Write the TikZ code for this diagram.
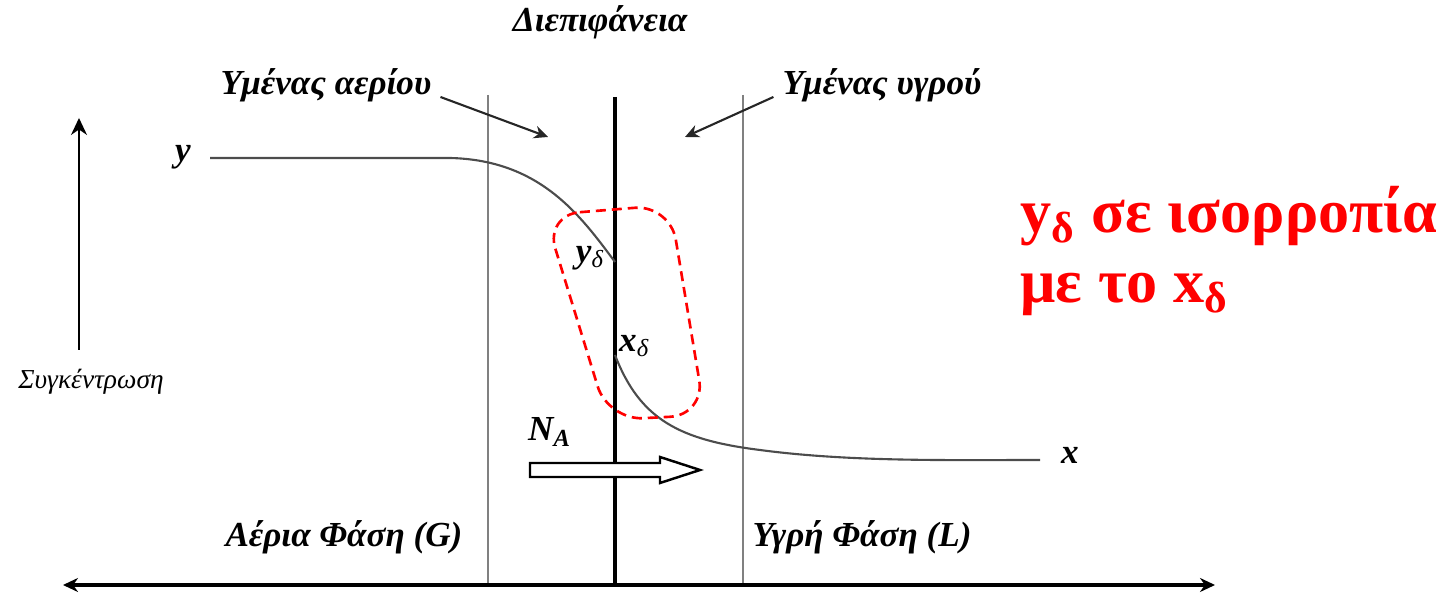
\documentclass[tikz,border=0pt]{standalone}
\usepackage{fontspec}
\setmainfont{Liberation Serif}
\usetikzlibrary{arrows.meta, positioning}

\begin{document}
\begin{tikzpicture}[
  lbl/.style={font=\bfseries\itshape\fontsize{10}{12}\selectfont, inner sep=1pt},
  sym/.style={font=\bfseries\itshape\fontsize{10}{12}\selectfont, inner sep=1pt},
  film/.style={draw=black!50, line width=0.4pt},
  prof/.style={draw=black!70, line width=0.6pt},
  ptr/.style={draw=black!85, line width=0.6pt, -{Stealth[length=1.4mm, width=1.3mm]}},
  note/.style={font=\bfseries\fontsize{17.7}{20}\selectfont, text=red, inner sep=0pt}
]
  \useasboundingbox (0,0) rectangle (14.52,5.95);

  % film boundaries and interface
  \coordinate (gtop) at (4.88,5.00);
  \coordinate (gbot) at (4.88,0.10);
  \coordinate (ltop) at (7.43,5.00);
  \coordinate (lbot) at (7.43,0.10);
  \coordinate (itop) at (6.15,4.98);
  \coordinate (ibot) at (6.15,0.10);
  \draw[film] (gtop) -- (gbot);
  \draw[film] (ltop) -- (lbot);
  \draw[line width=1.2pt] (itop) -- (ibot);

  % axes
  \coordinate (axl) at (0.63,0.10);
  \coordinate (axr) at (12.15,0.10);
  \draw[line width=0.9pt, {Stealth[length=1.5mm, width=1.4mm]}-{Stealth[length=1.5mm, width=1.4mm]}] (axl) -- (axr);
  \coordinate (cbot) at (0.79,2.45);
  \coordinate (ctop) at (0.79,4.77);
  \draw[line width=0.5pt, -{Stealth[length=1.7mm, width=1.6mm]}] (cbot) -- (ctop);
  \node[font=\itshape\fontsize{7.8}{9}\selectfont] (conc) at (0.91,2.13) {Συγκέντρωση};

  % labels on top
  \node[lbl] (iface) at (6.00,5.73) {Διεπιφάνεια};
  \node[lbl] (gfilm) at (3.26,5.10) {Υμένας αερίου};
  \node[lbl] (lfilm) at (8.82,5.10) {Υμένας υγρού};
  \coordinate (gfend) at (5.48,4.58);
  \coordinate (lfend) at (6.85,4.58);
  \draw[ptr] (gfilm.east) ++(0.05,-0.12) -- (gfend);
  \draw[ptr] (lfilm.west) ++(-0.05,-0.12) -- (lfend);

  % concentration profiles
  \node[sym] (ylab) at (1.83,4.38) {y};
  \coordinate (ystart) at (2.10,4.37);
  \coordinate (ybend) at (4.50,4.37);
  \coordinate (yd) at (6.15,3.33);
  \draw[prof] (ystart) -- (ybend) .. controls (5.40,4.35) and (5.80,3.80) .. (yd);
  \node[sym, anchor=east] (ydlab) at (6.09,3.37) {y\textsubscript{\mdseries δ}};

  \coordinate (xd) at (6.15,2.40);
  \coordinate (xend) at (10.40,1.35);
  \draw[prof] (xd) .. controls (6.40,1.75) and (6.80,1.55) .. (7.60,1.45)
    .. controls (8.50,1.33) and (9.50,1.35) .. (xend);
  \node[sym, anchor=west] (xdlab) at (6.15,2.49) {x\textsubscript{\mdseries δ}};
  \node[sym] (xlab) at (10.70,1.40) {x};

  % equilibrium region
  \draw[red, dashed, line width=0.75pt, dash pattern=on 1mm off 0.6mm, rounded corners=0.35cm]
    (5.45,3.80) -- (6.70,3.90) -- (7.05,1.80) -- (6.08,1.75) -- cycle;

  % flux
  \node[sym] (flux) at (5.50,1.63) {N\textsubscript{A}};
  \draw[fill=white, line width=0.7pt, line join=miter]
    (5.30,1.18) -- (6.60,1.18) -- (6.60,1.12) -- (7.00,1.25) -- (6.60,1.38)
    -- (6.60,1.32) -- (5.30,1.32) -- cycle;

  % phases
  \node[lbl] (gas) at (3.44,0.58) {Αέρια Φάση (G)};
  \node[lbl] (liq) at (8.62,0.58) {Υγρή Φάση (L)};

  % note
  \node[note, anchor=base west] (noteA) at (10.20,3.62) {y\textsubscript{δ} σε ισορροπία};
  \node[note, anchor=base west] (noteB) at (10.20,2.92) {με το x\textsubscript{δ}};
\end{tikzpicture}
\end{document}
